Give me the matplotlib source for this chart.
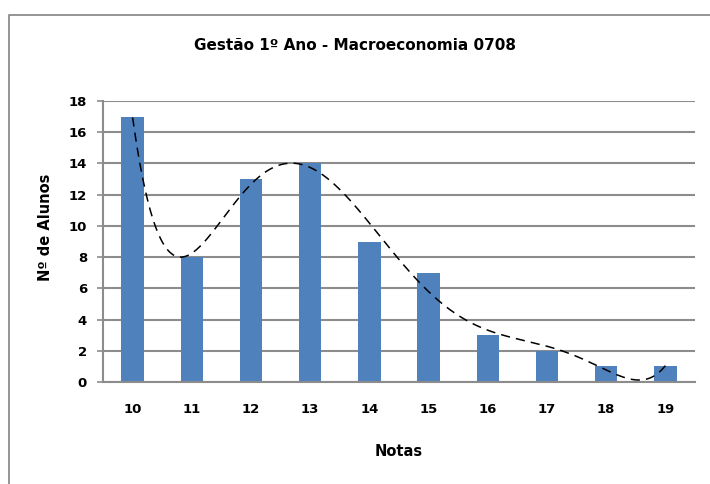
import numpy as np
from matplotlib import pyplot as plt
from matplotlib.lines import Line2D

# data
notas = [10, 11, 12, 13, 14, 15, 16, 17, 18, 19]
alunos = [17, 8, 13, 14, 9, 7, 3, 2, 1, 1]
yticks = [0, 2, 4, 6, 8, 10, 12, 14, 16, 18]
trend_degree = 6

bar_color = "#4F81BD"
grid_color = "#8C8C8C"

fig = plt.figure(figsize=(7.1, 4.84), dpi=100)
ax = fig.add_axes([103 / 710, 1 - 382 / 484, 592 / 710, 281 / 484])

pos = np.arange(len(notas))
ax.bar(pos, alunos, width=0.38, color=bar_color, zorder=2)

# polynomial trendline (Excel style) fitted to the bars
coef = np.polyfit(pos, alunos, trend_degree)
xs = np.linspace(pos[0], pos[-1], 300)
ax.plot(xs, np.polyval(coef, xs), color="black", lw=1.1,
        linestyle=(0, (6, 4)), zorder=3)

ax.set_xlim(-0.5, len(notas) - 0.5)
ax.set_ylim(0, 18)
ax.set_yticks(yticks)
ax.set_xticks(pos)
ax.set_xticklabels([str(n) for n in notas])
ax.yaxis.grid(True, color=grid_color, lw=1.5, zorder=0)
ax.set_axisbelow(True)

for side in ("top", "right"):
    ax.spines[side].set_visible(False)
ax.spines["left"].set_color(grid_color)
ax.spines["left"].set_linewidth(1.5)
ax.spines["bottom"].set_color(grid_color)
ax.spines["bottom"].set_linewidth(1.5)
ax.tick_params(axis="x", length=0, labelsize=9.5, pad=15)
ax.tick_params(axis="y", length=4.5, width=1.2, color=grid_color,
               direction="out", labelsize=9.5, pad=7)
for lbl in ax.get_xticklabels() + ax.get_yticklabels():
    lbl.set_fontweight("bold")

ax.set_xlabel("Notas", fontsize=10.5, fontweight="bold", labelpad=20)
ax.set_ylabel("Nº de Alunos", fontsize=10.5, fontweight="bold")
ax.yaxis.set_label_coords((45 - 103) / 592, (382 - 227) / 281)
ax.yaxis.label.set_verticalalignment("center")
fig.text(355 / 710, 1 - 45 / 484, "Gestão 1º Ano - Macroeconomia 0708",
         ha="center", va="center", fontsize=11, fontweight="bold")

# chart area border (top and left edges are visible in the reference)
bx, by = 8.5 / 710, 1 - 14.5 / 484
fig.lines.append(Line2D([bx, bx, 1.01], [-0.01, by, by], transform=fig.transFigure,
                        color="#8C8C8C", lw=1.3))

fig.savefig("out.png", dpi=100)
